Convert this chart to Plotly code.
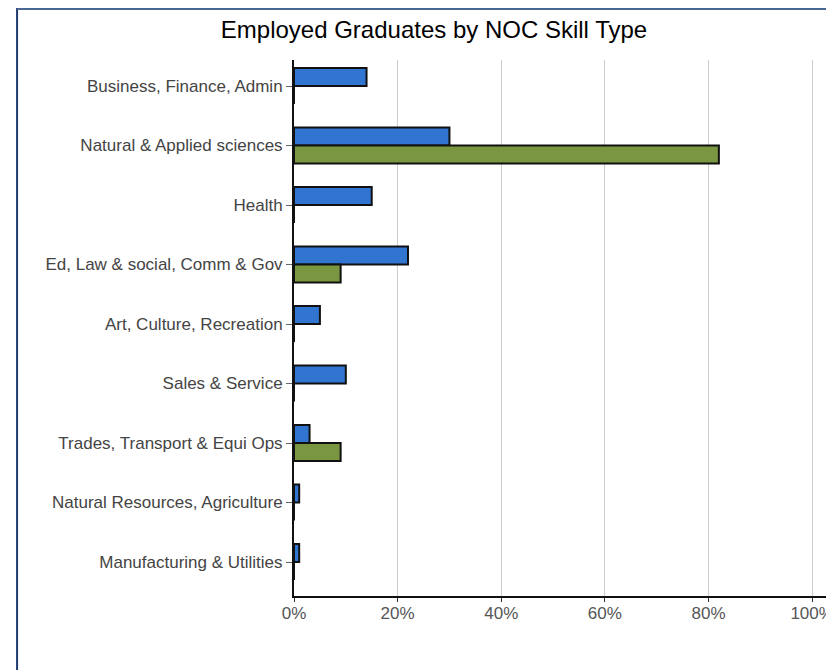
import plotly.graph_objects as go

categories = [
    "Business, Finance, Admin",
    "Natural & Applied sciences",
    "Health",
    "Ed, Law & social, Comm & Gov",
    "Art, Culture, Recreation",
    "Sales & Service",
    "Trades, Transport & Equi Ops",
    "Natural Resources, Agriculture",
    "Manufacturing & Utilities",
]
series_a = [14, 30, 15, 22, 5, 10, 3, 1, 1]
series_b = [0, 82, 0, 9, 0, 0, 9, 0, 0]
x_ticks = [0, 20, 40, 60, 80, 100]
x_tick_labels = ["0%", "20%", "40%", "60%", "80%", "100%"]

OFF = 8  # page body margin
W, H = 834, 670
# target plot area in page pixels: left 294, right 834, top 60, bottom 596
ML = 294 - OFF
MT = 60 - OFF
MR = OFF + W - 834
MB = OFF + H - 596
pw, ph = W - ML - MR, H - MT - MB

fig = go.Figure()
fig.add_trace(go.Bar(y=categories, x=series_a, orientation="h", name="Series A",
                     marker=dict(color="#3275d1", line=dict(color="#111111", width=2))))
fig.add_trace(go.Bar(y=categories, x=series_b, orientation="h", name="Series B",
                     marker=dict(color="#7a9641", line=dict(color="#111111", width=2))))

def px_x(p):
    return (p - OFF - ML) / pw

def px_y(p):
    return (H - MB - (p - OFF)) / ph

shapes = [
    dict(type="line", xref="paper", yref="paper", x0=px_x(15), x1=px_x(15),
         y0=px_y(OFF), y1=px_y(H + OFF), line=dict(color="#1f3a6e", width=2)),
    dict(type="line", xref="paper", yref="paper", x0=px_x(15), x1=px_x(W + 20),
         y0=px_y(OFF + 1), y1=px_y(OFF + 1), line=dict(color="#4a6794", width=2)),
]

fig.update_layout(
    width=W, height=H,
    margin=dict(l=ML, r=MR, t=MT, b=MB),
    paper_bgcolor="white", plot_bgcolor="white",
    barmode="group", bargap=0.395, bargroupgap=0,
    showlegend=False,
    font=dict(family="Liberation Sans, Arial, sans-serif", size=17, color="#444444"),
    title=dict(text="Employed Graduates by NOC Skill Type", x=(434 - OFF) / W, xanchor="center",
               y=1 - (30 - OFF) / H, yanchor="middle",
               font=dict(size=24, color="#000000")),
    shapes=shapes,
    xaxis=dict(range=[0, pw / 5.22], tickmode="array", tickvals=x_ticks, ticktext=x_tick_labels,
               showgrid=True, gridcolor="#cccccc", gridwidth=1,
               showline=True, linecolor="#111111", linewidth=2,
               ticks="outside", ticklen=4, tickcolor="#333333", ticklabelstandoff=-3,
               zeroline=False, tickfont=dict(size=17, color="#555555")),
    yaxis=dict(type="category", categoryorder="array", categoryarray=categories,
               range=[8.571, -0.437], showgrid=False,
               showline=True, linecolor="#111111", linewidth=2,
               ticks="outside", ticklen=6, tickcolor="#666666",
               tickfont=dict(size=17, color="#444444")),
)

fig.write_html("out.html")
